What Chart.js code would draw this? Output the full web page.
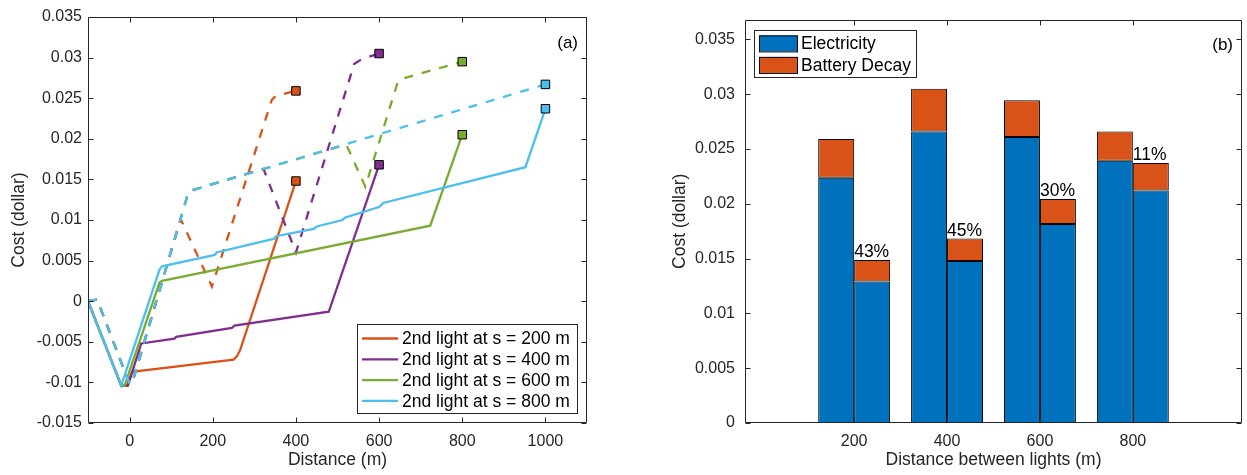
<!DOCTYPE html>
<html>
<head>
<meta charset="utf-8">
<title>Cost along the route</title>
<script src="https://cdn.jsdelivr.net/npm/chart.js@4.4.1/dist/chart.umd.min.js"></script>
<style>
  html, body { margin: 0; padding: 0; background: #fff; }
  #wrap { position: relative; width: 1247px; height: 475px; }
  .panel { position: absolute; top: 0; height: 475px; }
  #panelA { left: 0; width: 620px; }
  #panelB { left: 630px; width: 617px; }
</style>
</head>
<body>
<div id="wrap">
  <div class="panel" id="panelA"><canvas id="costLine"></canvas></div>
  <div class="panel" id="panelB"><canvas id="costBar"></canvas></div>
</div>
<script>
// panel (a): cost vs distance, [distance m, cost $]
const seriesNames = ['2nd light at s = 200 m', '2nd light at s = 400 m', '2nd light at s = 600 m', '2nd light at s = 800 m'];
const seriesColors = ['#D95319', '#7E2F8E', '#77AC30', '#4DBEEE'];

const solid200 = [[-100, 0], [-20, -0.0104], [-6, -0.0104], [6, -0.0087], [250, -0.0072], [258, -0.0068], [266, -0.0060], [400, 0.0148]];
const solid400 = [[-100, 0], [-20, -0.0104], [-4, -0.0104], [28, -0.0052], [108, -0.0046], [112, -0.0044], [246, -0.0033], [252, -0.0030], [479, -0.0013], [600, 0.0168]];
const solid600 = [[-100, 0], [-20, -0.0104], [-12, -0.0104], [72, 0.0023], [78, 0.0025], [723, 0.0093], [800, 0.0205]];
const solid800 = [[-100, 0], [-20, -0.0104], [72, 0.0039], [78, 0.0043], [205, 0.0057], [209, 0.0060], [348, 0.0077], [352, 0.0080],
  [443, 0.0089], [450, 0.0092], [512, 0.0100], [518, 0.0103], [600, 0.0116], [610, 0.0121], [952, 0.0165], [1000, 0.0237]];

const dash200 = [[-100, 0], [-78, 0.0002], [0, -0.0102], [6, -0.0101], [123, 0.0101], [198, 0.0018], [342, 0.0248], [352, 0.0253], [400, 0.0259]];
const dash400 = [[-100, 0], [-78, 0.0002], [0, -0.0102], [6, -0.0101], [138, 0.0128], [146, 0.0136], [322, 0.0163], [400, 0.0060],
  [540, 0.0292], [558, 0.0298], [600, 0.0305]];
const dash600 = [[-100, 0], [-78, 0.0002], [0, -0.0102], [6, -0.0101], [138, 0.0128], [146, 0.0136], [521, 0.0193], [567, 0.0141],
  [645, 0.0270], [655, 0.0274], [800, 0.0295]];
const dash800 = [[-100, 0], [-78, 0.0002], [0, -0.0102], [6, -0.0101], [138, 0.0128], [146, 0.0136], [1000, 0.0267]];

const solidRuns = [solid200, solid400, solid600, solid800];
const dashRuns = [dash200, dash400, dash600, dash800];
const xTicksA = [0, 200, 400, 600, 800, 1000];
const yTicksA = [-0.015, -0.01, -0.005, 0, 0.005, 0.01, 0.015, 0.02, 0.025, 0.03, 0.035];

// panel (b): cost per spacing, left bar = without / right bar = with 2nd light
const spacings = [200, 400, 600, 800];
const elecA = [0.02238, 0.0266, 0.0261, 0.02392];
const battA = [0.00352, 0.0039, 0.00335, 0.00268];
const elecB = [0.0129, 0.01477, 0.01815, 0.0212];
const battB = [0.00196, 0.00205, 0.00229, 0.00251];
const savings = ['43%', '45%', '30%', '11%'];
const yTicksB = [0, 0.005, 0.01, 0.015, 0.02, 0.025, 0.03, 0.035];

const FONT = '"Liberation Sans", Arial, Helvetica, sans-serif';
const AXIS = '#262626';
Chart.defaults.font.family = FONT;
Chart.defaults.font.size = 16;
Chart.defaults.color = AXIS;

const fmt = v => String(+v.toFixed(3));

// matlab style box with ticks pointing inwards, plus legend and panel tag
const boxAxes = {
  id: 'boxAxes',
  afterDatasetsDraw(chart, args, o) {
    const { ctx, chartArea: a, scales } = chart;
    const L = Math.round(a.left) + 0.5, R = Math.round(a.right) - 0.5;
    const T = Math.round(a.top) + 0.5, B = Math.round(a.bottom) - 0.5;
    ctx.save();
    ctx.strokeStyle = AXIS;
    ctx.lineWidth = 1;
    ctx.beginPath();
    ctx.rect(L, T, R - L, B - T);
    scales.x.ticks.forEach(t => {
      const px = Math.round(scales.x.getPixelForValue(t.value)) + 0.5;
      ctx.moveTo(px, B); ctx.lineTo(px, B - 5);
      ctx.moveTo(px, T); ctx.lineTo(px, T + 5);
    });
    scales.y.ticks.forEach(t => {
      const py = Math.round(scales.y.getPixelForValue(t.value)) + 0.5;
      ctx.moveTo(L, py); ctx.lineTo(L + 5, py);
      ctx.moveTo(R, py); ctx.lineTo(R - 5, py);
    });
    ctx.stroke();

    ctx.font = '17px ' + FONT;
    ctx.fillStyle = '#000';
    ctx.textAlign = 'right';
    ctx.textBaseline = 'middle';
    ctx.fillText(o.tag, a.right - 9, a.top + 26);

    const lg = o.legend;
    const left = lg.fromRight != null ? a.right - lg.fromRight - lg.width : a.left + lg.fromLeft;
    const top = lg.fromBottom != null ? a.bottom - lg.fromBottom - lg.height : a.top + lg.fromTop;
    ctx.fillStyle = '#fff';
    ctx.fillRect(left, top, lg.width, lg.height);
    ctx.strokeStyle = AXIS;
    ctx.strokeRect(Math.round(left) + 0.5, Math.round(top) + 0.5, lg.width, lg.height);
    ctx.textAlign = 'left';
    ctx.font = '17.5px ' + FONT;
    lg.items.forEach((it, i) => {
      const cy = top + lg.firstRow + i * lg.rowGap;
      if (lg.kind === 'line') {
        ctx.strokeStyle = it.color;
        ctx.lineWidth = 2.3;
        ctx.beginPath();
        ctx.moveTo(left + 5, cy); ctx.lineTo(left + 41, cy);
        ctx.stroke();
      } else {
        ctx.fillStyle = it.color;
        ctx.fillRect(left + 5, cy - 8, 38, 16);
        ctx.strokeStyle = '#000';
        ctx.lineWidth = 1;
        ctx.strokeRect(left + 5.5, cy - 7.5, 38, 16);
      }
      ctx.fillStyle = '#000';
      ctx.fillText(it.label, left + lg.textX, cy + 1);
    });
    ctx.restore();
  }
};

// percentage saved, written on top of the right bar of each pair
const savingLabels = {
  id: 'savingLabels',
  afterDatasetsDraw(chart) {
    const { ctx } = chart;
    const meta = chart.getDatasetMeta(3);
    ctx.save();
    ctx.font = '17.5px ' + FONT;
    ctx.fillStyle = '#000';
    ctx.textAlign = 'left';
    ctx.textBaseline = 'alphabetic';
    meta.data.forEach((bar, i) => {
      ctx.fillText(savings[i], bar.x - bar.width / 2, bar.y - 3);
    });
    ctx.restore();
  }
};

function fixedTicks(list) {
  return scale => { scale.ticks = list.map(v => ({ value: v })); };
}

// ---- panel (a)
const lineSets = [];
for (let i = 0; i < 4; i++) {
  [[solidRuns[i], []], [dashRuns[i], [9, 9]]].forEach(([run, dash]) => {
    lineSets.push({
      label: seriesNames[i],
      data: run.map(p => ({ x: p[0], y: p[1] })),
      borderColor: seriesColors[i],
      borderWidth: 2.3,
      borderDash: dash,
      tension: 0,
      pointStyle: 'rect',
      pointRadius: c => (c.dataIndex === run.length - 1 ? 6 : 0),
      pointHoverRadius: 0,
      pointBackgroundColor: seriesColors[i],
      pointBorderColor: '#000',
      pointBorderWidth: 1
    });
  });
}
lineSets.forEach((d, i) => { d.order = 100 - i; });

new Chart(document.getElementById('costLine'), {
  type: 'line',
  data: { datasets: lineSets },
  options: {
    responsive: true,
    maintainAspectRatio: false,
    animation: false,
    layout: { padding: { left: 0, right: 33, top: 17, bottom: 0 } },
    scales: {
      x: {
        type: 'linear', min: -100, max: 1100,
        afterBuildTicks: fixedTicks(xTicksA),
        afterFit: s => { s.height = 52; },
        grid: { display: false, drawTicks: false },
        border: { display: false },
        ticks: { padding: 9, maxRotation: 0, callback: v => String(v) },
        title: { display: true, text: 'Distance (m)', font: { size: 17.5 }, padding: { top: 0, bottom: 4 } }
      },
      y: {
        min: -0.015, max: 0.035,
        afterBuildTicks: fixedTicks(yTicksA),
        afterFit: s => { s.width = 88; },
        grid: { display: false, drawTicks: false },
        border: { display: false },
        ticks: { padding: 6, callback: fmt },
        title: { display: true, text: 'Cost (dollar)', font: { size: 17.5 }, padding: { top: 9, bottom: 0 } }
      }
    },
    plugins: {
      legend: { display: false },
      tooltip: { enabled: false },
      boxAxes: {
        tag: '(a)',
        legend: {
          kind: 'line', fromRight: 10, fromBottom: 10, width: 220, height: 89,
          firstRow: 14.5, rowGap: 20.8, textX: 45,
          items: seriesNames.map((n, i) => ({ label: n, color: seriesColors[i] }))
        }
      }
    }
  },
  plugins: [boxAxes]
});

// ---- panel (b)
const barSet = (label, vals, stack, color) => ({
  label,
  data: spacings.map((s, i) => ({ x: s, y: vals[i] })),
  stack,
  backgroundColor: color,
  borderColor: '#000',
  borderWidth: 1,
  borderSkipped: false
});

new Chart(document.getElementById('costBar'), {
  type: 'bar',
  data: {
    datasets: [
      barSet('Electricity', elecA, 'before', '#0072BD'),
      barSet('Battery Decay', battA, 'before', '#D95319'),
      barSet('Electricity', elecB, 'after', '#0072BD'),
      barSet('Battery Decay', battB, 'after', '#D95319')
    ]
  },
  options: {
    responsive: true,
    maintainAspectRatio: false,
    animation: false,
    layout: { padding: { left: 0, right: 5, top: 17, bottom: 0 } },
    datasets: { bar: { categoryPercentage: 0.774, barPercentage: 1 } },
    scales: {
      x: {
        type: 'linear', min: -35, max: 1035, offset: false, stacked: true,
        afterBuildTicks: fixedTicks(spacings),
        afterFit: s => { s.height = 52; },
        grid: { display: false, drawTicks: false, offset: false },
        border: { display: false },
        ticks: { padding: 9, maxRotation: 0, callback: v => String(v) },
        title: { display: true, text: 'Distance between lights (m)', font: { size: 17.5 }, padding: { top: 0, bottom: 4 } }
      },
      y: {
        stacked: true, min: 0, max: 0.0368,
        afterBuildTicks: fixedTicks(yTicksB),
        afterFit: s => { s.width = 115; },
        grid: { display: false, drawTicks: false },
        border: { display: false },
        ticks: { padding: 10, callback: fmt },
        title: { display: true, text: 'Cost (dollar)', font: { size: 17.5 }, padding: { top: 40, bottom: 0 } }
      }
    },
    plugins: {
      legend: { display: false },
      tooltip: { enabled: false },
      boxAxes: {
        tag: '(b)',
        legend: {
          kind: 'patch', fromLeft: 9, fromTop: 10, width: 162, height: 47,
          firstRow: 13.8, rowGap: 21.5, textX: 47,
          items: [{ label: 'Electricity', color: '#0072BD' }, { label: 'Battery Decay', color: '#D95319' }]
        }
      }
    }
  },
  plugins: [boxAxes, savingLabels]
});
</script>
</body>
</html>
